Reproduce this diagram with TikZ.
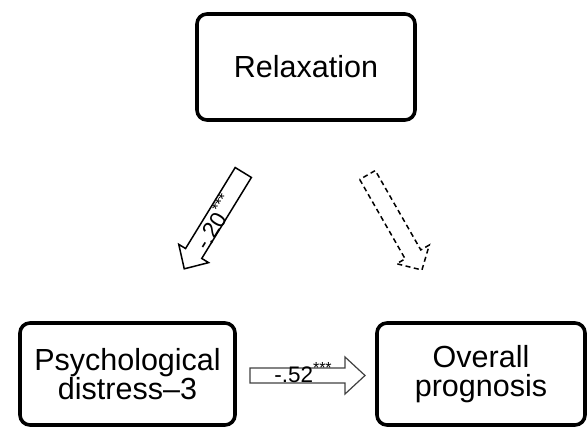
\documentclass[tikz,border=0pt]{standalone}
\usepackage{fontspec}
\setmainfont{Liberation Sans}
\newcommand\blockarrow[7]{% style, tail coordinate, angle, length, shaft half width, head half width, head length
  \draw[#1, shift={(#2)}, rotate=#3] (0,-#5) -- (#4-#7,-#5) -- (#4-#7,-#6) -- (#4,0)
    -- (#4-#7,#6) -- (#4-#7,#5) -- (0,#5) -- cycle;}
\newcommand\stars{\raisebox{0.4em}{\fontsize{16}{16}\selectfont ***}}
\begin{document}
\begin{tikzpicture}[x=1pt,y=1pt,
  box/.style={draw, line width=3.6pt, rounded corners=10pt, align=center,
    font=\fontsize{30.5}{28.5}\selectfont, inner sep=0pt},
  solidarrow/.style={draw=black, line width=1.5pt, line join=miter, fill=white},
  dasharrow/.style={draw=black, line width=1.5pt, dash pattern=on 5pt off 3.5pt, line join=miter},
  greyarrow/.style={draw=black!75, line width=1.2pt, line join=miter},
  lbl/.style={font=\fontsize{22.5}{22.5}\selectfont, inner sep=0pt}]
\useasboundingbox (0,0) rectangle (588,427);
\node[box, minimum width=218pt, minimum height=106pt] (relax) at (306,360) {Relaxation};
\node[box, minimum width=215pt, minimum height=102pt] (psych) at (127.5,53) {Psychological\\distress--3};
\node[box, minimum width=208pt, minimum height=102pt] (overall) at (481,53) {Overall\\prognosis};
\coordinate (a1tail) at (243.3,254.5);
\coordinate (a2tail) at (367.5,252);
\coordinate (a3tail) at (250,51.5);
\blockarrow{solidarrow}{a1tail}{-121.5}{113}{9.5}{17.5}{18}
\blockarrow{dasharrow}{a2tail}{-60.2}{109.5}{9}{18.8}{18}
\blockarrow{greyarrow}{a3tail}{0}{115}{7.5}{18.5}{20}
\node[lbl, rotate=58.5] (l20) at (214,205) {-.20\stars};
\node[lbl, anchor=base] (l52) at (303,44) {-.52\stars};
\end{tikzpicture}
\end{document}
